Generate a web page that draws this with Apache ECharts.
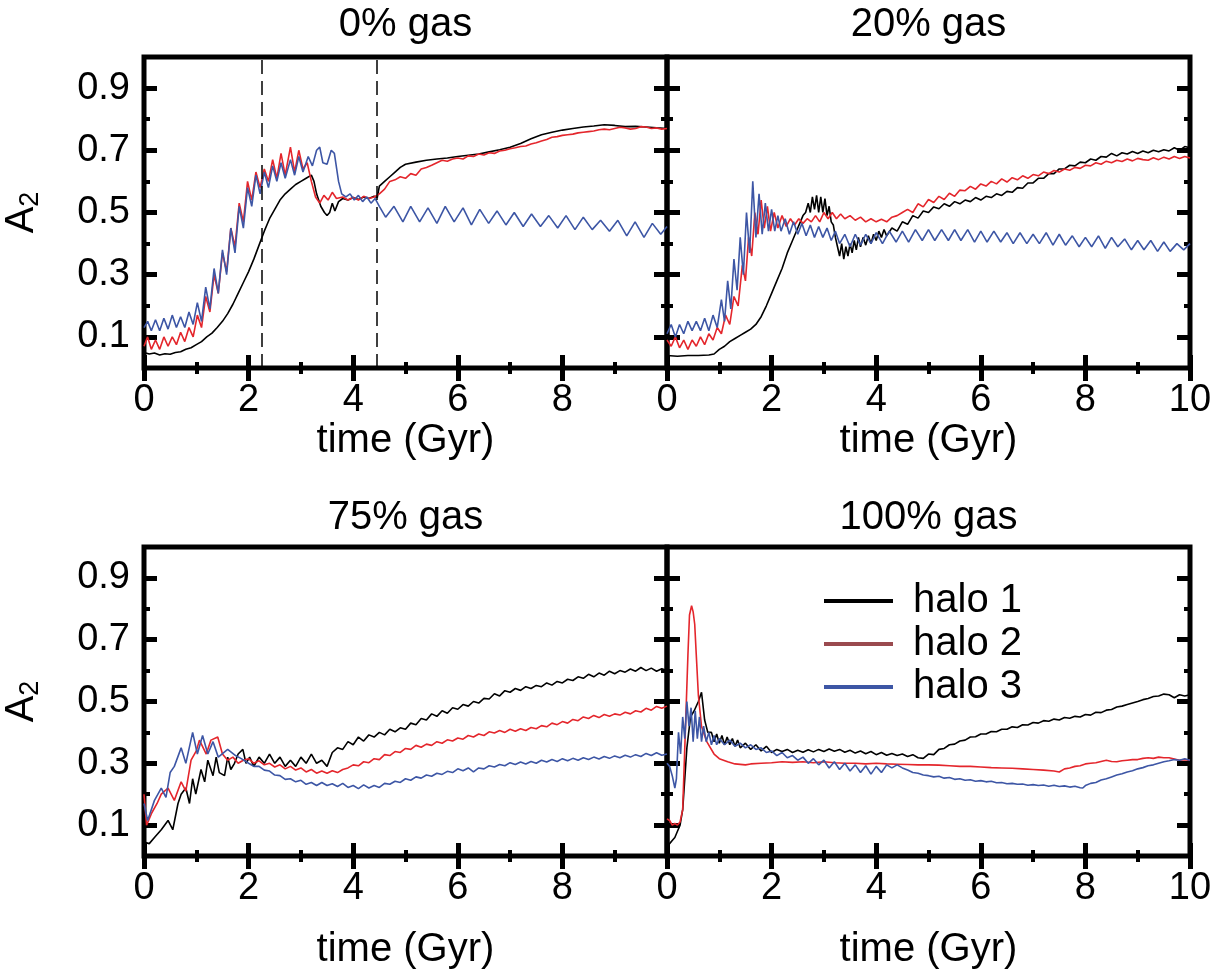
<!DOCTYPE html>
<html>
<head>
<meta charset="utf-8">
<script src="https://cdn.jsdelivr.net/npm/echarts@6/dist/echarts.min.js"></script>
<style>
html,body{margin:0;padding:0;background:#fff;}
#chart{width:1227px;height:977px;}
</style>
</head>
<body>
<div id="chart"></div>
<script>
// ---------- DATA (time in Gyr, A2) ----------
const PANEL_TITLES = ['0% gas', '20% gas', '75% gas', '100% gas'];
const SERIES_NAMES = ['halo 1', 'halo 2', 'halo 3'];
const X_TICK_LABELS_LEFT = [0, 2, 4, 6, 8];
const X_TICK_LABELS_RIGHT = [0, 2, 4, 6, 8, 10];
const Y_MAJOR = [0.1, 0.3, 0.5, 0.7, 0.9];
const Y_MINOR = [0.2, 0.4, 0.6, 0.8];
const DASH_TIMES = [2.25, 4.45];

// 0% gas
const P0_H1 = [[0,0.05],[0.1,0.045],[0.2,0.048],[0.3,0.042],[0.4,0.046],[0.5,0.044],[0.6,0.05],[0.7,0.052],[0.8,0.06],[0.9,0.065],[1.0,0.075],[1.1,0.085],[1.2,0.1],[1.3,0.112],[1.4,0.13],[1.5,0.15],[1.6,0.175],[1.7,0.205],[1.8,0.24],[1.9,0.275],[2.0,0.31],[2.1,0.35],[2.2,0.395],[2.3,0.44],[2.4,0.48],[2.5,0.51],[2.6,0.54],[2.7,0.56],[2.8,0.575],[2.9,0.59],[3.0,0.6],[3.1,0.61],[3.2,0.62],[3.25,0.6],[3.3,0.56],[3.38,0.52],[3.45,0.5],[3.5,0.49],[3.55,0.5],[3.6,0.53],[3.65,0.505],[3.72,0.535],[3.8,0.545],[3.9,0.54],[4.0,0.548],[4.1,0.542],[4.2,0.55],[4.3,0.545],[4.4,0.552],[4.46,0.548],[4.5,0.585],[4.6,0.6],[4.7,0.615],[4.8,0.63],[4.9,0.645],[5.0,0.655],[5.2,0.662],[5.4,0.668],[5.6,0.672],[5.8,0.675],[6.0,0.68],[6.2,0.684],[6.4,0.688],[6.6,0.695],[6.8,0.702],[7.0,0.71],[7.2,0.722],[7.4,0.737],[7.6,0.75],[7.8,0.758],[8.0,0.765],[8.2,0.77],[8.4,0.775],[8.6,0.778],[8.8,0.782],[9.0,0.78],[9.2,0.776],[9.4,0.777],[9.6,0.775],[9.8,0.772],[10,0.77]];
const P0_H2 = [[0,0.07],[0.07,0.1],[0.14,0.06],[0.22,0.09],[0.3,0.06],[0.38,0.1],[0.46,0.07],[0.54,0.1],[0.62,0.075],[0.7,0.115],[0.78,0.085],[0.86,0.13],[0.94,0.1],[1.02,0.17],[1.1,0.13],[1.18,0.23],[1.26,0.18],[1.34,0.3],[1.42,0.24],[1.5,0.37],[1.58,0.31],[1.66,0.45],[1.74,0.39],[1.82,0.53],[1.9,0.47],[1.98,0.6],[2.06,0.54],[2.14,0.63],[2.22,0.58],[2.3,0.64],[2.38,0.6],[2.46,0.67],[2.54,0.61],[2.62,0.69],[2.7,0.62],[2.8,0.71],[2.88,0.63],[2.96,0.7],[3.04,0.64],[3.12,0.66],[3.2,0.6],[3.28,0.55],[3.36,0.53],[3.44,0.555],[3.52,0.54],[3.6,0.565],[3.68,0.545],[3.8,0.55],[3.9,0.54],[4.0,0.548],[4.1,0.54],[4.2,0.552],[4.3,0.545],[4.4,0.55],[4.5,0.56],[4.6,0.575],[4.7,0.6],[4.8,0.605],[4.9,0.615],[5.0,0.61],[5.1,0.625],[5.2,0.62],[5.3,0.64],[5.4,0.645],[5.5,0.652],[5.6,0.66],[5.7,0.668],[5.8,0.665],[5.9,0.672],[6.0,0.675],[6.1,0.672],[6.2,0.682],[6.3,0.68],[6.4,0.688],[6.5,0.685],[6.6,0.692],[6.7,0.69],[6.8,0.698],[6.9,0.7],[7.0,0.705],[7.1,0.708],[7.2,0.712],[7.3,0.714],[7.4,0.72],[7.5,0.724],[7.6,0.73],[7.7,0.735],[7.8,0.742],[7.9,0.744],[8.0,0.748],[8.1,0.75],[8.2,0.752],[8.3,0.756],[8.4,0.758],[8.5,0.76],[8.6,0.762],[8.7,0.766],[8.8,0.768],[8.9,0.766],[9.0,0.77],[9.1,0.774],[9.2,0.772],[9.3,0.768],[9.4,0.77],[9.5,0.776],[9.6,0.775],[9.7,0.77],[9.8,0.772],[9.9,0.768],[10,0.77]];
const P0_H3 = [[0,0.13],[0.07,0.15],[0.14,0.12],[0.22,0.155],[0.3,0.12],[0.38,0.16],[0.46,0.125],[0.54,0.17],[0.62,0.13],[0.7,0.165],[0.78,0.13],[0.86,0.18],[0.94,0.14],[1.02,0.21],[1.1,0.15],[1.18,0.26],[1.26,0.19],[1.34,0.32],[1.42,0.24],[1.5,0.38],[1.58,0.3],[1.66,0.45],[1.74,0.37],[1.82,0.52],[1.9,0.45],[1.98,0.58],[2.06,0.52],[2.14,0.62],[2.22,0.56],[2.3,0.63],[2.38,0.58],[2.46,0.65],[2.54,0.6],[2.62,0.66],[2.7,0.61],[2.8,0.67],[2.88,0.62],[2.96,0.68],[3.04,0.63],[3.14,0.68],[3.22,0.65],[3.3,0.7],[3.36,0.71],[3.42,0.66],[3.5,0.655],[3.58,0.7],[3.64,0.69],[3.72,0.6],[3.78,0.56],[3.86,0.55],[3.94,0.56],[4.02,0.54],[4.1,0.555],[4.18,0.535],[4.26,0.55],[4.34,0.53],[4.42,0.545],[4.5,0.52],[4.62,0.485],[4.78,0.52],[4.95,0.47],[5.1,0.52],[5.27,0.47],[5.43,0.515],[5.6,0.465],[5.76,0.52],[5.93,0.47],[6.1,0.515],[6.26,0.46],[6.42,0.51],[6.59,0.465],[6.75,0.505],[6.92,0.46],[7.08,0.5],[7.25,0.455],[7.41,0.495],[7.58,0.455],[7.74,0.49],[7.91,0.45],[8.07,0.49],[8.24,0.445],[8.4,0.485],[8.57,0.445],[8.73,0.475],[8.9,0.44],[9.06,0.475],[9.23,0.425],[9.39,0.47],[9.56,0.42],[9.72,0.465],[9.88,0.43],[10,0.455]];

// 20% gas
const P20_H1 = [[0,0.04],[0.2,0.038],[0.4,0.04],[0.6,0.04],[0.8,0.042],[0.9,0.045],[1.0,0.06],[1.1,0.07],[1.2,0.085],[1.3,0.095],[1.4,0.105],[1.5,0.115],[1.6,0.125],[1.7,0.14],[1.8,0.165],[1.9,0.2],[2.0,0.24],[2.1,0.28],[2.2,0.32],[2.3,0.37],[2.4,0.41],[2.5,0.45],[2.55,0.47],[2.6,0.49],[2.65,0.5],[2.7,0.53],[2.74,0.5],[2.78,0.55],[2.82,0.51],[2.86,0.555],[2.9,0.5],[2.94,0.55],[2.98,0.5],[3.02,0.545],[3.06,0.49],[3.1,0.52],[3.14,0.47],[3.18,0.46],[3.22,0.42],[3.26,0.39],[3.3,0.36],[3.34,0.4],[3.38,0.35],[3.42,0.39],[3.46,0.36],[3.5,0.4],[3.54,0.37],[3.58,0.41],[3.62,0.38],[3.66,0.42],[3.7,0.39],[3.75,0.42],[3.8,0.395],[3.85,0.425],[3.9,0.4],[3.95,0.43],[4.0,0.41],[4.05,0.44],[4.1,0.42],[4.15,0.445],[4.2,0.425],[4.3,0.45],[4.4,0.44],[4.5,0.47],[4.6,0.462],[4.7,0.49],[4.8,0.482],[4.9,0.505],[5.0,0.5],[5.1,0.518],[5.2,0.512],[5.3,0.528],[5.4,0.52],[5.5,0.535],[5.6,0.528],[5.7,0.54],[5.8,0.535],[5.9,0.548],[6.0,0.54],[6.1,0.552],[6.2,0.548],[6.3,0.56],[6.4,0.555],[6.5,0.568],[6.6,0.565],[6.7,0.58],[6.8,0.578],[6.9,0.595],[7.0,0.595],[7.1,0.61],[7.2,0.61],[7.3,0.625],[7.4,0.625],[7.5,0.64],[7.6,0.64],[7.7,0.652],[7.8,0.65],[7.9,0.662],[8.0,0.66],[8.1,0.672],[8.2,0.668],[8.3,0.68],[8.4,0.678],[8.5,0.69],[8.6,0.682],[8.7,0.692],[8.8,0.688],[8.9,0.696],[9.0,0.69],[9.1,0.698],[9.2,0.692],[9.3,0.7],[9.4,0.695],[9.5,0.702],[9.6,0.698],[9.7,0.708],[9.8,0.7],[9.9,0.712],[10,0.708]];
const P20_H2 = [[0,0.09],[0.08,0.07],[0.16,0.1],[0.24,0.065],[0.32,0.09],[0.4,0.06],[0.48,0.09],[0.56,0.07],[0.64,0.1],[0.72,0.075],[0.8,0.11],[0.88,0.09],[0.96,0.13],[1.04,0.11],[1.12,0.17],[1.2,0.14],[1.28,0.23],[1.36,0.2],[1.44,0.33],[1.5,0.28],[1.56,0.42],[1.62,0.36],[1.68,0.5],[1.74,0.43],[1.8,0.54],[1.86,0.45],[1.92,0.52],[1.98,0.44],[2.05,0.5],[2.12,0.45],[2.2,0.49],[2.28,0.455],[2.36,0.48],[2.44,0.46],[2.52,0.48],[2.6,0.465],[2.68,0.48],[2.76,0.47],[2.84,0.49],[2.92,0.47],[3.0,0.5],[3.08,0.48],[3.16,0.5],[3.24,0.48],[3.32,0.495],[3.4,0.48],[3.5,0.49],[3.6,0.475],[3.7,0.485],[3.8,0.47],[3.9,0.48],[4.0,0.47],[4.1,0.478],[4.2,0.47],[4.3,0.485],[4.4,0.49],[4.5,0.5],[4.6,0.51],[4.7,0.5],[4.8,0.528],[4.9,0.518],[5.0,0.542],[5.1,0.532],[5.2,0.552],[5.3,0.542],[5.4,0.562],[5.5,0.552],[5.6,0.572],[5.7,0.57],[5.8,0.584],[5.9,0.575],[6.0,0.592],[6.1,0.585],[6.2,0.6],[6.3,0.592],[6.4,0.608],[6.5,0.598],[6.6,0.612],[6.7,0.605],[6.8,0.618],[6.9,0.61],[7.0,0.622],[7.1,0.618],[7.2,0.63],[7.3,0.625],[7.4,0.635],[7.5,0.63],[7.6,0.64],[7.7,0.636],[7.8,0.645],[7.9,0.642],[8.0,0.652],[8.1,0.65],[8.2,0.66],[8.3,0.655],[8.4,0.665],[8.5,0.66],[8.6,0.668],[8.7,0.664],[8.8,0.672],[8.9,0.666],[9.0,0.674],[9.1,0.67],[9.2,0.668],[9.3,0.676],[9.4,0.67],[9.5,0.678],[9.6,0.672],[9.7,0.68],[9.8,0.674],[9.9,0.68],[10,0.675]];
const P20_H3 = [[0,0.11],[0.08,0.14],[0.16,0.1],[0.24,0.14],[0.32,0.11],[0.4,0.15],[0.48,0.12],[0.56,0.15],[0.64,0.12],[0.72,0.16],[0.8,0.12],[0.88,0.17],[0.96,0.13],[1.04,0.22],[1.1,0.15],[1.16,0.28],[1.22,0.19],[1.28,0.35],[1.34,0.25],[1.4,0.42],[1.46,0.3],[1.52,0.5],[1.58,0.37],[1.64,0.6],[1.7,0.42],[1.76,0.56],[1.82,0.43],[1.88,0.53],[1.94,0.44],[2.0,0.51],[2.06,0.44],[2.12,0.49],[2.18,0.44],[2.26,0.48],[2.34,0.43],[2.42,0.47],[2.5,0.43],[2.58,0.465],[2.66,0.425],[2.74,0.46],[2.82,0.42],[2.9,0.455],[2.98,0.42],[3.06,0.45],[3.14,0.41],[3.22,0.44],[3.3,0.4],[3.4,0.43],[3.5,0.39],[3.6,0.43],[3.7,0.395],[3.8,0.43],[3.9,0.4],[4.0,0.435],[4.12,0.4],[4.25,0.44],[4.38,0.405],[4.5,0.44],[4.62,0.405],[4.75,0.445],[4.88,0.41],[5.0,0.445],[5.12,0.41],[5.25,0.445],[5.38,0.41],[5.5,0.445],[5.62,0.41],[5.75,0.445],[5.88,0.405],[6.0,0.44],[6.12,0.405],[6.25,0.44],[6.38,0.405],[6.5,0.435],[6.62,0.4],[6.75,0.435],[6.88,0.4],[7.0,0.43],[7.12,0.4],[7.25,0.435],[7.38,0.395],[7.5,0.43],[7.62,0.395],[7.75,0.425],[7.88,0.39],[8.0,0.42],[8.12,0.39],[8.25,0.425],[8.38,0.385],[8.5,0.42],[8.62,0.39],[8.75,0.415],[8.88,0.38],[9.0,0.41],[9.12,0.38],[9.25,0.41],[9.38,0.375],[9.5,0.405],[9.62,0.375],[9.75,0.4],[9.88,0.38],[10,0.4]];

// 75% gas
const P75_H1 = [[0,0.045],[0.1,0.04],[0.2,0.06],[0.33,0.085],[0.46,0.115],[0.55,0.085],[0.65,0.17],[0.71,0.2],[0.8,0.22],[0.87,0.17],[0.93,0.25],[0.99,0.2],[1.09,0.28],[1.16,0.24],[1.22,0.31],[1.32,0.26],[1.38,0.32],[1.44,0.27],[1.54,0.26],[1.6,0.32],[1.66,0.28],[1.73,0.3],[1.8,0.33],[1.89,0.345],[1.95,0.3],[2.02,0.32],[2.1,0.29],[2.2,0.32],[2.3,0.3],[2.4,0.33],[2.5,0.3],[2.6,0.32],[2.7,0.29],[2.8,0.31],[2.9,0.29],[3.0,0.32],[3.1,0.3],[3.2,0.33],[3.3,0.3],[3.4,0.31],[3.5,0.29],[3.6,0.335],[3.7,0.35],[3.8,0.345],[3.9,0.37],[4.0,0.36],[4.1,0.385],[4.2,0.372],[4.3,0.392],[4.4,0.385],[4.5,0.4],[4.6,0.392],[4.7,0.41],[4.8,0.402],[4.9,0.415],[5.0,0.41],[5.1,0.43],[5.2,0.425],[5.3,0.445],[5.4,0.44],[5.5,0.46],[5.6,0.452],[5.7,0.47],[5.8,0.462],[5.9,0.48],[6.0,0.475],[6.1,0.49],[6.2,0.485],[6.3,0.5],[6.4,0.495],[6.5,0.51],[6.6,0.508],[6.7,0.525],[6.8,0.518],[6.9,0.535],[7.0,0.53],[7.1,0.542],[7.2,0.536],[7.3,0.548],[7.4,0.542],[7.5,0.552],[7.6,0.548],[7.7,0.56],[7.8,0.553],[7.9,0.565],[8.0,0.56],[8.1,0.572],[8.2,0.568],[8.3,0.58],[8.4,0.575],[8.5,0.588],[8.6,0.58],[8.7,0.592],[8.8,0.585],[8.9,0.598],[9.0,0.59],[9.1,0.6],[9.2,0.595],[9.3,0.605],[9.4,0.598],[9.5,0.61],[9.6,0.6],[9.7,0.608],[9.8,0.598],[9.9,0.606],[10,0.6]];
const P75_H2 = [[0,0.2],[0.05,0.1],[0.15,0.14],[0.25,0.17],[0.33,0.2],[0.46,0.22],[0.58,0.18],[0.71,0.24],[0.8,0.21],[0.9,0.31],[1.0,0.34],[1.06,0.375],[1.19,0.33],[1.28,0.375],[1.41,0.385],[1.5,0.33],[1.6,0.31],[1.7,0.32],[1.8,0.3],[1.9,0.31],[2.0,0.315],[2.1,0.3],[2.2,0.308],[2.3,0.295],[2.4,0.3],[2.5,0.288],[2.6,0.295],[2.7,0.282],[2.8,0.29],[2.9,0.278],[3.0,0.285],[3.1,0.272],[3.2,0.28],[3.3,0.268],[3.4,0.275],[3.5,0.268],[3.6,0.276],[3.7,0.27],[3.8,0.28],[3.9,0.285],[4.0,0.295],[4.1,0.292],[4.2,0.305],[4.3,0.302],[4.4,0.315],[4.5,0.312],[4.6,0.328],[4.7,0.325],[4.8,0.338],[4.9,0.335],[5.0,0.348],[5.1,0.345],[5.2,0.358],[5.3,0.352],[5.4,0.362],[5.5,0.358],[5.6,0.37],[5.7,0.365],[5.8,0.376],[5.9,0.372],[6.0,0.382],[6.1,0.378],[6.2,0.39],[6.3,0.385],[6.4,0.395],[6.5,0.39],[6.6,0.402],[6.7,0.398],[6.8,0.406],[6.9,0.4],[7.0,0.41],[7.1,0.404],[7.2,0.412],[7.3,0.406],[7.4,0.416],[7.5,0.412],[7.6,0.422],[7.7,0.418],[7.8,0.43],[7.9,0.425],[8.0,0.435],[8.1,0.43],[8.2,0.442],[8.3,0.438],[8.4,0.45],[8.5,0.445],[8.6,0.455],[8.7,0.448],[8.8,0.458],[8.9,0.452],[9.0,0.46],[9.1,0.456],[9.2,0.465],[9.3,0.46],[9.4,0.47],[9.5,0.466],[9.6,0.478],[9.7,0.472],[9.8,0.484],[9.9,0.478],[10,0.485]];
const P75_H3 = [[0,0.17],[0.07,0.115],[0.2,0.18],[0.33,0.22],[0.42,0.19],[0.5,0.27],[0.58,0.29],[0.71,0.35],[0.8,0.3],[0.93,0.4],[1.02,0.33],[1.12,0.39],[1.22,0.33],[1.32,0.37],[1.42,0.32],[1.6,0.345],[1.75,0.325],[1.86,0.315],[2.0,0.3],[2.1,0.29],[2.2,0.29],[2.3,0.278],[2.4,0.275],[2.5,0.262],[2.6,0.26],[2.7,0.248],[2.8,0.25],[2.9,0.24],[3.0,0.245],[3.1,0.232],[3.2,0.238],[3.3,0.228],[3.4,0.238],[3.5,0.228],[3.6,0.234],[3.7,0.225],[3.8,0.235],[3.9,0.222],[4.0,0.228],[4.1,0.218],[4.2,0.23],[4.3,0.22],[4.4,0.228],[4.5,0.222],[4.6,0.235],[4.7,0.232],[4.8,0.242],[4.9,0.238],[5.0,0.25],[5.1,0.245],[5.2,0.256],[5.3,0.252],[5.4,0.262],[5.5,0.258],[5.6,0.268],[5.7,0.264],[5.8,0.274],[5.9,0.27],[6.0,0.282],[6.1,0.276],[6.2,0.285],[6.3,0.272],[6.4,0.285],[6.5,0.282],[6.6,0.292],[6.7,0.288],[6.8,0.296],[6.9,0.292],[7.0,0.302],[7.1,0.296],[7.2,0.304],[7.3,0.298],[7.4,0.306],[7.5,0.3],[7.6,0.31],[7.7,0.304],[7.8,0.312],[7.9,0.306],[8.0,0.315],[8.1,0.308],[8.2,0.316],[8.3,0.31],[8.4,0.318],[8.5,0.312],[8.6,0.32],[8.7,0.314],[8.8,0.322],[8.9,0.316],[9.0,0.324],[9.1,0.318],[9.2,0.326],[9.3,0.32],[9.4,0.328],[9.5,0.322],[9.6,0.332],[9.7,0.325],[9.8,0.334],[9.9,0.326],[10,0.33]];

// 100% gas
const P100_H1 = [[0,0.035],[0.05,0.04],[0.1,0.05],[0.15,0.06],[0.2,0.08],[0.25,0.1],[0.3,0.15],[0.38,0.35],[0.45,0.45],[0.52,0.47],[0.6,0.5],[0.66,0.53],[0.72,0.44],[0.78,0.4],[0.85,0.4],[0.9,0.37],[0.95,0.395],[1.0,0.365],[1.05,0.39],[1.1,0.36],[1.15,0.385],[1.2,0.36],[1.25,0.38],[1.3,0.355],[1.35,0.375],[1.4,0.35],[1.5,0.365],[1.6,0.345],[1.7,0.36],[1.8,0.34],[1.9,0.355],[2.0,0.335],[2.1,0.345],[2.2,0.338],[2.3,0.345],[2.4,0.335],[2.5,0.342],[2.6,0.336],[2.7,0.344],[2.8,0.337],[2.9,0.345],[3.0,0.338],[3.1,0.346],[3.2,0.339],[3.3,0.345],[3.4,0.336],[3.5,0.342],[3.6,0.333],[3.7,0.34],[3.8,0.331],[3.9,0.338],[4.0,0.328],[4.1,0.335],[4.2,0.326],[4.3,0.332],[4.4,0.325],[4.5,0.33],[4.6,0.322],[4.7,0.328],[4.8,0.318],[4.9,0.316],[5.0,0.33],[5.1,0.328],[5.2,0.345],[5.3,0.348],[5.4,0.36],[5.5,0.362],[5.6,0.372],[5.7,0.375],[5.8,0.385],[5.9,0.386],[6.0,0.395],[6.1,0.395],[6.2,0.403],[6.3,0.402],[6.4,0.41],[6.5,0.41],[6.6,0.418],[6.7,0.416],[6.8,0.425],[6.9,0.424],[7.0,0.432],[7.1,0.43],[7.2,0.438],[7.3,0.436],[7.4,0.443],[7.5,0.44],[7.6,0.448],[7.7,0.446],[7.8,0.452],[7.9,0.45],[8.0,0.458],[8.1,0.456],[8.2,0.465],[8.3,0.464],[8.4,0.472],[8.5,0.474],[8.6,0.482],[8.7,0.485],[8.8,0.49],[8.9,0.495],[9.0,0.5],[9.1,0.506],[9.2,0.51],[9.3,0.516],[9.4,0.518],[9.5,0.524],[9.6,0.522],[9.7,0.512],[9.8,0.522],[9.9,0.518],[10,0.522]];
const P100_H2 = [[0,0.12],[0.05,0.115],[0.1,0.1],[0.15,0.105],[0.2,0.1],[0.25,0.11],[0.3,0.15],[0.35,0.4],[0.4,0.65],[0.43,0.78],[0.47,0.81],[0.5,0.79],[0.53,0.75],[0.56,0.65],[0.6,0.52],[0.66,0.42],[0.76,0.37],[0.9,0.33],[1.0,0.315],[1.16,0.305],[1.3,0.298],[1.5,0.295],[1.6,0.298],[1.8,0.3],[2.0,0.302],[2.2,0.305],[2.4,0.303],[2.6,0.305],[2.8,0.302],[3.0,0.305],[3.2,0.302],[3.4,0.3],[3.6,0.3],[3.8,0.298],[4.0,0.3],[4.2,0.298],[4.4,0.297],[4.6,0.296],[4.8,0.295],[5.0,0.295],[5.2,0.294],[5.4,0.292],[5.6,0.29],[5.8,0.29],[6.0,0.288],[6.2,0.286],[6.4,0.285],[6.6,0.284],[6.8,0.282],[7.0,0.28],[7.2,0.278],[7.4,0.275],[7.5,0.272],[7.6,0.282],[7.7,0.285],[7.8,0.29],[7.9,0.292],[8.0,0.298],[8.1,0.3],[8.2,0.302],[8.3,0.306],[8.4,0.31],[8.5,0.306],[8.6,0.305],[8.7,0.308],[8.8,0.31],[8.9,0.312],[9.0,0.312],[9.1,0.316],[9.2,0.318],[9.3,0.316],[9.4,0.32],[9.5,0.318],[9.6,0.318],[9.7,0.314],[9.8,0.31],[9.9,0.312],[10,0.31]];
const P100_H3 = [[0,0.3],[0.05,0.29],[0.1,0.26],[0.15,0.22],[0.18,0.25],[0.22,0.4],[0.26,0.33],[0.3,0.45],[0.34,0.38],[0.38,0.5],[0.42,0.42],[0.46,0.48],[0.5,0.37],[0.54,0.47],[0.58,0.38],[0.62,0.45],[0.66,0.37],[0.7,0.42],[0.75,0.37],[0.8,0.4],[0.85,0.36],[0.9,0.39],[0.95,0.36],[1.0,0.38],[1.1,0.36],[1.2,0.375],[1.3,0.355],[1.4,0.365],[1.5,0.35],[1.6,0.36],[1.7,0.345],[1.8,0.35],[1.9,0.335],[2.0,0.34],[2.1,0.325],[2.2,0.335],[2.3,0.318],[2.4,0.325],[2.5,0.31],[2.6,0.32],[2.7,0.3],[2.8,0.315],[2.9,0.295],[3.0,0.31],[3.1,0.285],[3.2,0.305],[3.3,0.28],[3.4,0.3],[3.5,0.275],[3.6,0.295],[3.7,0.27],[3.8,0.292],[3.9,0.265],[4.0,0.29],[4.1,0.27],[4.2,0.295],[4.3,0.285],[4.4,0.295],[4.5,0.285],[4.6,0.278],[4.7,0.27],[4.8,0.268],[4.9,0.262],[5.0,0.26],[5.1,0.256],[5.2,0.258],[5.3,0.252],[5.4,0.254],[5.5,0.248],[5.6,0.25],[5.7,0.245],[5.8,0.247],[5.9,0.242],[6.0,0.244],[6.1,0.24],[6.2,0.242],[6.3,0.237],[6.4,0.238],[6.5,0.234],[6.6,0.235],[6.7,0.232],[6.8,0.233],[6.9,0.229],[7.0,0.231],[7.1,0.228],[7.2,0.23],[7.3,0.226],[7.4,0.229],[7.5,0.225],[7.6,0.227],[7.7,0.223],[7.8,0.226],[7.9,0.221],[7.95,0.22],[8.0,0.228],[8.1,0.235],[8.2,0.238],[8.3,0.246],[8.4,0.25],[8.5,0.256],[8.6,0.262],[8.7,0.266],[8.8,0.272],[8.9,0.276],[9.0,0.282],[9.1,0.286],[9.2,0.292],[9.3,0.295],[9.4,0.3],[9.5,0.305],[9.6,0.308],[9.7,0.312],[9.8,0.31],[9.9,0.315],[10,0.31]];

const PANEL_DATA = [
  [P0_H1, P0_H2, P0_H3],
  [P20_H1, P20_H2, P20_H3],
  [P75_H1, P75_H2, P75_H3],
  [P100_H1, P100_H2, P100_H3]
];

// ---------- STYLE ----------
const FONT = "'Liberation Sans', Arial, Helvetica, sans-serif";
const COLORS = ['#000000', '#e4262c', '#3d56a5'];
const LEGEND_COLORS = ['#000000', '#9a4a4f', '#3d56a5'];
const GRIDS = [
  {left: 144, top: 57, width: 523, height: 311},
  {left: 667, top: 57, width: 523, height: 311},
  {left: 144, top: 547, width: 523, height: 309},
  {left: 667, top: 547, width: 523, height: 309}
];
const NAME_GAPS = [53, 53, 74, 74];

const chart = echarts.init(document.getElementById('chart'), null, {renderer: 'canvas'});

const grid = GRIDS.map(g => Object.assign({show: true, borderColor: '#000', borderWidth: 5, backgroundColor: 'transparent', containLabel: false}, g));

const xAxis = [];
const yAxis = [];
const series = [];

GRIDS.forEach((g, p) => {
  const isLeft = (p % 2 === 0);
  const labelSet = isLeft ? X_TICK_LABELS_LEFT : X_TICK_LABELS_RIGHT;
  const baseX = {
    type: 'value', gridIndex: p, min: 0, max: 10, interval: 2,
    axisLine: {show: false},
    axisTick: {show: true, inside: true, length: 13, lineStyle: {color: '#000', width: 5}},
    minorTick: {show: true, splitNumber: 2, length: 6, lineStyle: {color: '#000', width: 4}},
    splitLine: {show: false}, minorSplitLine: {show: false}
  };
  xAxis.push(Object.assign({}, baseX, {
    position: 'bottom',
    axisLabel: {show: true, margin: 14, fontSize: 38, color: '#000', fontFamily: FONT,
      formatter: v => (labelSet.indexOf(v) >= 0 ? String(v) : '')},
    name: 'time (Gyr)', nameLocation: 'middle', nameGap: NAME_GAPS[p],
    nameTextStyle: {fontSize: 40, color: '#000', fontFamily: FONT}
  }));
  xAxis.push(Object.assign({}, baseX, {position: 'top', axisLabel: {show: false}}));

  const mk = (pos, vals, major, labels) => ({
    type: 'value', gridIndex: p, min: 0, max: 1, position: pos,
    axisLine: {show: false}, splitLine: {show: false},
    axisTick: {show: true, inside: true, length: major ? 13 : 6, customValues: vals,
      lineStyle: {color: '#000', width: major ? 5 : 4}},
    axisLabel: labels ? {show: true, customValues: vals, margin: 14, fontSize: 38, color: '#000', fontFamily: FONT,
      formatter: v => v.toFixed(1)} : {show: false}
  });
  const yMain = mk('left', Y_MAJOR, true, isLeft);
  if (isLeft) {
    yMain.name = '{a|A}{b|2}';
    yMain.nameLocation = 'middle';
    yMain.nameRotate = 90;
    yMain.nameGap = 100;
    yMain.nameTextStyle = {color: '#000', rich: {
      a: {fontSize: 40, fontFamily: FONT, color: '#000'},
      b: {fontSize: 27, fontFamily: FONT, color: '#000', padding: [18, 0, 0, 0]}
    }};
  }
  const yBase = yAxis.length;
  yAxis.push(yMain);
  yAxis.push(mk('left', Y_MINOR, false, false));
  yAxis.push(mk('right', Y_MAJOR, true, false));
  yAxis.push(mk('right', Y_MINOR, false, false));

  PANEL_DATA[p].forEach((d, h) => {
    const s = {
      type: 'line', name: SERIES_NAMES[h], xAxisIndex: p * 2, yAxisIndex: yBase,
      data: d, symbol: 'none', showSymbol: false, smooth: false,
      lineStyle: {color: COLORS[h], width: 1.6}, itemStyle: {color: COLORS[h]},
      emphasis: {disabled: true}, silent: true, z: 2 + h
    };
    if (p === 0 && h === 0) {
      s.markLine = {
        silent: true, symbol: ['none', 'none'], label: {show: false},
        lineStyle: {type: [14, 7], color: '#000', width: 1.5},
        emphasis: {disabled: true},
        data: DASH_TIMES.map(t => ({xAxis: t}))
      };
    }
    series.push(s);
  });
});

const graphic = PANEL_TITLES.map((t, i) => ({
  type: 'text',
  x: GRIDS[i].left + GRIDS[i].width / 2,
  y: i < 2 ? 25 : 518,
  style: {text: t, fontSize: 40, fontFamily: FONT, fill: '#000', align: 'center', verticalAlign: 'middle'}
}));

const option = {
  animation: false,
  backgroundColor: '#fff',
  grid, xAxis, yAxis, series, graphic,
  legend: {
    orient: 'vertical', left: 819, top: 576,
    itemWidth: 69, itemHeight: 4, itemGap: 3, icon: 'rect',
    selectedMode: false,
    textStyle: {fontSize: 40, color: '#000', fontFamily: FONT, padding: [0, 0, 0, 15]},
    data: SERIES_NAMES.map((n, i) => ({name: n, itemStyle: {color: LEGEND_COLORS[i]}}))
  }
};

chart.setOption(option);
</script>
</body>
</html>
